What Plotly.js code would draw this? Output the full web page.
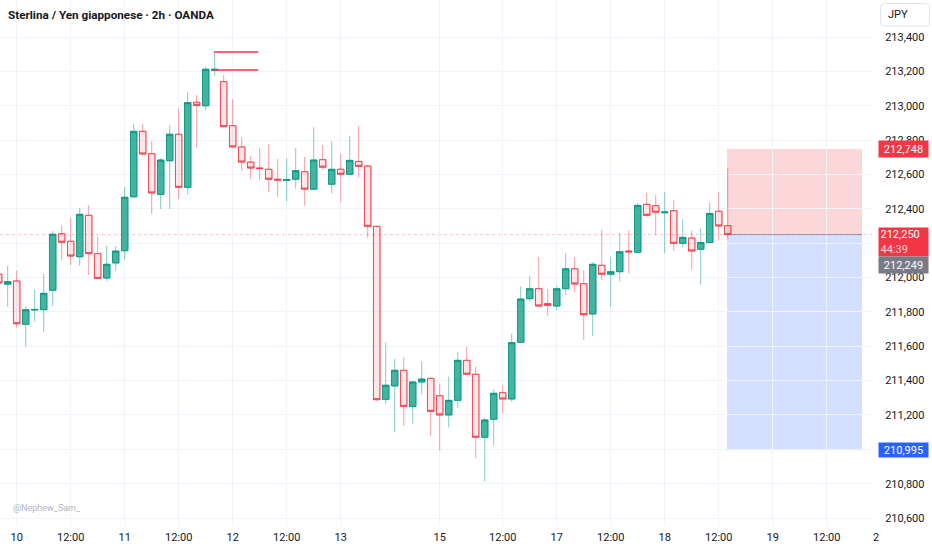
<!DOCTYPE html>
<html>
<head>
<meta charset="utf-8">
<script src="https://cdn.plot.ly/plotly-3.0.1.min.js"></script>
<style>html,body{margin:0;padding:0;background:#fff;}#chart{width:932px;height:550px;}</style>
</head>
<body>
<div id="chart"></div>
<script>
// ---- data (2h bars, index = bar number) ----
const barIndex = [];
for (let k = -1; k <= 80; k++) barIndex.push(k);

const openVals = [
212.020,211.961,211.980,211.728,211.811,211.813,211.926,212.255,212.211,212.121,
212.362,212.139,211.997,212.085,212.156,212.470,212.851,212.721,212.484,212.680,
212.834,212.525,213.020,213.000,213.206,213.140,212.884,212.760,212.672,212.637,
212.630,212.572,212.566,212.572,212.616,212.514,212.686,212.543,212.630,212.601,
212.676,212.649,212.298,211.291,211.369,211.460,211.250,211.392,211.413,211.312,
211.200,211.285,211.518,211.437,211.070,211.175,211.330,211.293,211.623,211.877,
211.935,211.848,211.834,211.935,212.051,211.964,211.788,212.071,212.019,212.034,
212.154,212.147,212.426,212.418,212.377,212.389,212.199,212.230,212.164,212.204,
212.386,212.302];
const highVals = [
212.035,212.067,212.040,211.834,211.931,212.020,212.271,212.304,212.345,212.403,
212.420,212.236,212.185,212.183,212.527,212.894,212.894,212.795,212.694,212.886,
212.983,213.078,213.062,213.229,213.317,213.179,213.037,212.816,212.707,212.754,
212.777,212.690,212.692,212.754,212.702,212.874,212.771,212.795,212.719,212.824,
212.882,212.655,212.298,211.623,211.526,211.536,211.398,211.514,211.418,211.380,
211.423,211.568,211.596,211.483,211.182,211.351,211.373,211.673,211.949,212.007,
212.119,211.933,211.951,212.144,212.119,212.042,212.089,212.277,212.121,212.257,
212.273,212.436,212.494,212.480,212.496,212.451,212.339,212.275,212.287,212.434,
212.498,212.639];
const lowVals = [
211.955,211.830,211.708,211.597,211.743,211.685,211.834,212.100,212.073,212.069,
212.015,211.990,211.981,212.040,212.102,212.463,212.713,212.370,212.399,212.399,
212.457,212.480,212.756,212.975,213.173,212.874,212.756,212.622,212.572,212.568,
212.496,212.470,212.445,212.517,212.418,212.510,212.626,212.490,212.438,212.597,
212.581,212.230,211.281,211.262,211.099,211.136,211.149,211.320,211.079,210.994,
211.128,211.242,211.433,210.949,210.812,211.023,211.211,211.277,211.619,211.859,
211.828,211.778,211.809,211.897,211.914,211.638,211.658,211.987,211.830,211.976,
212.025,212.143,212.351,212.249,212.141,212.154,212.176,212.046,211.958,212.199,
212.221,212.222];
const closeVals = [
211.968,211.976,211.731,211.813,211.814,211.908,212.252,212.205,212.125,212.368,
212.139,211.995,212.077,212.154,212.467,212.851,212.719,212.492,212.684,212.834,
212.525,213.018,213.002,213.212,213.212,212.878,212.760,212.672,212.637,212.635,
212.572,212.568,212.570,212.622,212.514,212.684,212.642,212.630,212.601,212.682,
212.647,212.298,211.289,211.373,211.460,211.250,211.392,211.409,211.221,211.200,
211.285,211.518,211.437,211.070,211.171,211.326,211.293,211.621,211.875,211.935,
211.834,211.838,211.935,212.051,211.962,211.784,212.077,212.019,212.034,212.150,
212.150,212.420,212.362,212.380,212.381,212.199,212.234,212.154,212.204,212.373,
212.300,212.250];

// time axis labels
const tickIndex = [1,7,13,19,25,31,37,48,55,61,67,73,79,85,91];
const tickLabels = ['10','12:00','11','12:00','12','12:00','13','15','12:00','17','12:00','18','12:00','19','12:00'];

// price axis ticks (212,200 is hidden behind the last-price label in the reference)
const priceTicks = [210.6,210.8,211.0,211.2,211.4,211.6,211.8,212.0,212.2,212.4,212.6,212.8,213.0,213.2,213.4];
const hiddenPriceTicks = [212.2];

// drawn levels near the high
const drawnLevels = [213.313, 213.208];
const drawnSpan = [22.92, 27.84];

// short position tool
const entryPrice = 212.250;
const stopPrice = 212.748;
const targetPrice = 210.995;
const positionSpan = [79.92, 94.92];
const lastPrice = 212.250;
const bidPrice = 212.249;
const countdown = '44:39';

// ---- helpers ----
const fmt = v => v.toFixed(3).replace('.', ',');
const bodyHigh = openVals.map((o, i) => Math.max(o, closeVals[i]));
const bodyLow = openVals.map((o, i) => Math.min(o, closeVals[i]));
const priceTickText = priceTicks.map(v => hiddenPriceTicks.some(h => Math.abs(h - v) < 1e-9) ? '' : fmt(v));

const green = '8,153,129', red = '242,54,69';

const wickTrace = {
  type: 'candlestick', x: barIndex, open: openVals, high: highVals, low: lowVals, close: closeVals,
  increasing: {line: {color: 'rgba(' + green + ',0.5)', width: 1}, fillcolor: 'rgba(' + green + ',0.5)'},
  decreasing: {line: {color: 'rgba(' + red + ',0.5)', width: 1}, fillcolor: 'rgba(255,255,255,0)'},
  hoverinfo: 'skip', showlegend: false
};
const bodyTrace = {
  type: 'candlestick', x: barIndex, open: openVals, high: bodyHigh, low: bodyLow, close: closeVals,
  increasing: {line: {color: 'rgba(' + green + ',0.85)', width: 1}, fillcolor: 'rgba(' + green + ',0.5)'},
  decreasing: {line: {color: 'rgba(' + red + ',0.78)', width: 1}, fillcolor: 'rgba(' + red + ',0.12)'},
  hoverinfo: 'skip', showlegend: false
};

const PW = 872, PH = 526; // plot area size in px
const px = p => p / PW;          // pixel x -> paper
const py = p => 1 - p / PH;      // pixel y -> paper

// rounded box path in paper coords (for the currency button)
function roundedBox(x0, y0, x1, y1, r) {
  const rx = r / PW, ry = r / PH;
  const X0 = px(x0), X1 = px(x1), Y0 = py(y0), Y1 = py(y1); // Y0 top, Y1 bottom
  return `M${X0 + rx},${Y0} L${X1 - rx},${Y0} Q${X1},${Y0} ${X1},${Y0 - ry} L${X1},${Y1 + ry} ` +
         `Q${X1},${Y1} ${X1 - rx},${Y1} L${X0 + rx},${Y1} Q${X0},${Y1} ${X0},${Y1 + ry} ` +
         `L${X0},${Y0 - ry} Q${X0},${Y0} ${X0 + rx},${Y0} Z`;
}

const shapes = [
  // position tool zones
  {type: 'rect', xref: 'x', yref: 'y', x0: positionSpan[0], x1: positionSpan[1], y0: entryPrice, y1: stopPrice,
   fillcolor: 'rgba(242,54,69,0.2)', line: {width: 0}, layer: 'below'},
  {type: 'rect', xref: 'x', yref: 'y', x0: positionSpan[0], x1: positionSpan[1], y0: targetPrice, y1: entryPrice,
   fillcolor: 'rgba(41,98,255,0.2)', line: {width: 0}, layer: 'below'},
  {type: 'line', xref: 'x', yref: 'y', x0: positionSpan[0], x1: positionSpan[1], y0: entryPrice, y1: entryPrice,
   line: {color: 'rgba(120,123,134,0.7)', width: 1}},
  // current price dotted line
  {type: 'line', xref: 'paper', yref: 'y', x0: 0, x1: 1, y0: lastPrice, y1: lastPrice,
   line: {color: 'rgba(242,54,69,0.3)', width: 1, dash: 'dot'}, layer: 'below'},
  // currency button
  {type: 'path', xref: 'paper', yref: 'paper', path: roundedBox(880.5, 3.5, 929.5, 26, 4),
   fillcolor: '#ffffff', line: {color: '#e0e3eb', width: 1}, layer: 'above'}
];
drawnLevels.forEach(l => shapes.push({
  type: 'line', xref: 'x', yref: 'y', x0: drawnSpan[0], x1: drawnSpan[1], y0: l, y1: l,
  line: {color: '#f23645', width: 1.5}
}));

const lblFont = {family: 'Roboto, sans-serif', size: 11, color: '#ffffff'};
const annotations = [
  {xref: 'paper', yref: 'paper', x: px(6), y: py(15), xanchor: 'left', yanchor: 'middle', showarrow: false,
   text: '<b>Sterlina / Yen giapponese · 2h · OANDA</b>', font: {family: 'Roboto, sans-serif', size: 11.7, color: '#131722'}},
  {xref: 'paper', yref: 'paper', x: px(886), y: py(15), xanchor: 'left', yanchor: 'middle', showarrow: false,
   text: 'JPY', font: {family: 'Roboto, sans-serif', size: 11, color: '#131722'}},
  {xref: 'paper', yref: 'paper', x: px(11), y: py(508), xanchor: 'left', yanchor: 'middle', showarrow: false,
   text: '@Nephew_Sam_', font: {family: 'Roboto, sans-serif', size: 9, color: '#b2b5be'}},
  {xref: 'paper', yref: 'paper', x: px(871), y: py(537), xanchor: 'left', yanchor: 'middle', showarrow: false,
   text: '2', font: {family: 'Roboto, sans-serif', size: 11, color: '#131722'}},
  {xref: 'paper', yref: 'y', x: px(878), y: stopPrice, xanchor: 'left', yanchor: 'middle', showarrow: false,
   text: fmt(stopPrice), width: 46, height: 13, borderpad: 1.5, bgcolor: '#f23645', font: lblFont},
  {xref: 'paper', yref: 'y', x: px(878), y: lastPrice, xanchor: 'left', yanchor: 'top', yshift: 8, showarrow: false,
   text: fmt(lastPrice) + '<br><span style="color:#ffd0d4">' + countdown + '</span>', width: 46, height: 25,
   borderpad: 1.5, bgcolor: '#f23645', align: 'left', font: lblFont},
  {xref: 'paper', yref: 'y', x: px(878), y: bidPrice, xanchor: 'left', yanchor: 'middle', yshift: -30, showarrow: false,
   text: fmt(bidPrice), width: 46, height: 13, borderpad: 1.5, bgcolor: '#787b86', font: lblFont},
  {xref: 'paper', yref: 'y', x: px(878), y: targetPrice, xanchor: 'left', yanchor: 'middle', showarrow: false,
   text: fmt(targetPrice), width: 46, height: 11, borderpad: 1.5, bgcolor: '#2962ff', font: lblFont}
];

const layout = {
  width: 932, height: 550,
  margin: {l: 0, r: 932 - PW, t: 0, b: 550 - PH},
  paper_bgcolor: '#ffffff', plot_bgcolor: '#ffffff',
  separators: ',.',
  showlegend: false,
  boxgap: 0.2, boxgroupgap: 0.1,
  font: {family: 'Roboto, sans-serif', size: 11, color: '#131722'},
  xaxis: {
    type: 'linear', range: [-0.856, 96.03],
    tickmode: 'array', tickvals: tickIndex, ticktext: tickLabels,
    showgrid: true, gridcolor: '#f0f3fa', gridwidth: 1, zeroline: false, showline: false,
    ticks: 'outside', ticklen: 1, tickcolor: 'rgba(0,0,0,0)',
    rangeslider: {visible: false}, fixedrange: true,
    tickfont: {family: 'Roboto, sans-serif', size: 11, color: '#131722'}
  },
  yaxis: {
    side: 'right', range: [210.5537, 213.6154],
    tickmode: 'array', tickvals: priceTicks, ticktext: priceTickText,
    showgrid: true, gridcolor: '#f0f3fa', gridwidth: 1, zeroline: false, showline: false,
    ticks: 'outside', ticklen: 10, tickcolor: 'rgba(0,0,0,0)', fixedrange: true,
    tickfont: {family: 'Roboto, sans-serif', size: 11, color: '#131722'}
  },
  shapes: shapes,
  annotations: annotations
};

Plotly.newPlot('chart', [wickTrace, bodyTrace], layout, {displayModeBar: false, staticPlot: true});
</script>
</body>
</html>
